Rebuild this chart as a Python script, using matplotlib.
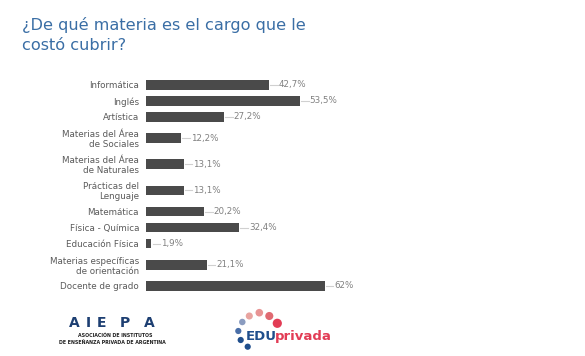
import matplotlib.pyplot as plt
import numpy as np

materias = ["Informática", "Inglés", "Artística", "Materias del Área\nde Sociales",
            "Materias del Área\nde Naturales", "Prácticas del\nLenguaje", "Matemática",
            "Física - Química", "Educación Física", "Materias específicas\nde orientación",
            "Docente de grado"]
porcentajes = [42.7, 53.5, 27.2, 12.2, 13.1, 13.1, 20.2, 32.4, 1.9, 21.1, 62]

W, H = 585, 356
fig = plt.figure(figsize=(W / 100, H / 100), dpi=100)
fig.patch.set_facecolor("white")

# two-line labels get a taller slot
slot = np.array([26 if "\n" in m else 16 for m in materias], dtype=float)
centers = np.cumsum(slot) - slot / 2

ax_l, ax_r = 146, 370
ax_top, ax_bot = 76.7, 294
ax = fig.add_axes([ax_l / W, 1 - ax_bot / H, (ax_r - ax_l) / W, (ax_bot - ax_top) / H])
px = 2.88  # pixels per percent
ax.set_xlim(0, (ax_r - ax_l) / px)
ax.set_ylim(slot.sum(), 0)

ax.barh(centers, porcentajes, height=9.5, color="#4a4a4a", edgecolor="none")
for y, v in zip(centers, porcentajes):
    ax.plot([v + 0.4, v + 3.0], [y, y], color="#d0d0d0", lw=0.8)
    txt = f"{v:g}".replace(".", ",") + "%"
    ax.text(v + 3.3, y, txt, va="center", ha="left", fontsize=6.3, color="#808080")

ax.set_yticks(centers)
ax.set_yticklabels(materias, fontsize=6.3, color="#5a5a5a", linespacing=1.1)
ax.tick_params(axis="y", length=0, pad=5)
ax.set_xticks([])
for s in ax.spines.values():
    s.set_visible(False)
ax.patch.set_alpha(0)

fig.text(22 / W, 1 - 35 / H, "¿De qué materia es el cargo que le\ncostó cubrir?",
         ha="left", va="center", fontsize=11.6, color="#3a6ea5", linespacing=1.4)

# logos, drawn in pixel coordinates
lax = fig.add_axes([0, 0, 1, 1])
lax.set_xlim(0, W)
lax.set_ylim(H, 0)
lax.axis("off")

navy = "#1d3f72"
for ch, x in zip("AIEPA", [74.5, 88, 102, 125, 149]):
    lax.text(x, 323, ch, ha="center", va="center", fontsize=10, fontweight="bold", color=navy)
lax.text(115, 335.5, "ASOCIACIÓN DE INSTITUTOS", ha="center", va="center",
         fontsize=3.4, fontweight="bold", color="#222222")
lax.text(112, 342.7, "DE ENSEÑANZA PRIVADA DE ARGENTINA", ha="center", va="center",
         fontsize=3.4, fontweight="bold", color="#222222")

dots_x = [247.7, 240.7, 238.3, 242.3, 249.3, 259.3, 269.3, 277.3]
dots_y = [346.7, 340, 331, 322, 316, 312.7, 316, 323.3]
dots_c = ["#1f4e8c", "#1f4e8c", "#4a6fa8", "#8a9cc0", "#e8a4a0", "#e89494", "#e06a72", "#e23c55"]
dots_s = [20, 20, 20, 22, 26, 30, 34, 44]
lax.scatter(dots_x, dots_y, s=dots_s, c=dots_c, edgecolors="none")
edu = lax.text(246, 336.5, "EDU", ha="left", va="center", fontsize=9.5,
               fontweight="bold", color="#1f4e8c")
lax.annotate("privada", xy=(1, 0.5), xycoords=edu, xytext=(-1.5, 0), textcoords="offset points",
             ha="left", va="center", fontsize=9.5, fontweight="bold", color="#e23c55")

fig.savefig("out.png", dpi=100)
